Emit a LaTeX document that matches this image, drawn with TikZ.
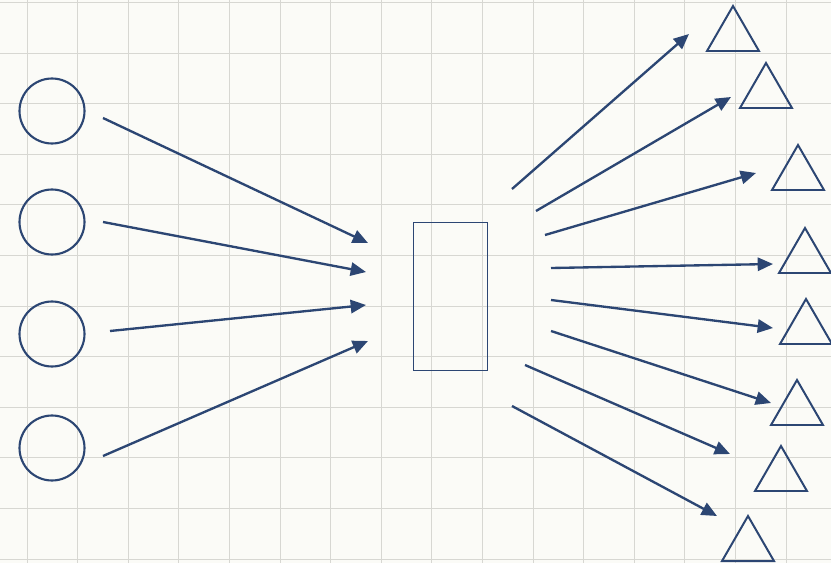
\documentclass[tikz,border=0pt]{standalone}
\usetikzlibrary{arrows.meta, positioning, shapes.geometric}
\definecolor{inkblue}{RGB}{44,70,115}
\definecolor{paper}{RGB}{251,251,247}
\definecolor{gridgray}{RGB}{215,215,210}
\tikzset{
  source/.style={circle, draw=inkblue, line width=1.8pt,
                 inner sep=0pt, minimum size=1.95cm},
  hubbox/.style={rectangle, draw=inkblue, line width=1.5pt,
                 inner sep=0pt, minimum width=2.22cm, minimum height=4.44cm},
  sink/.style={regular polygon, regular polygon sides=3, draw=inkblue,
                 line width=1.7pt, inner sep=0pt, minimum size=1.8cm},
  flow/.style={draw=inkblue, line width=2pt,
                 -{Triangle[length=0.46cm, width=0.4cm]}},
  gridline/.style={draw=gridgray, line width=0.8pt},
}
\begin{document}
\begin{tikzpicture}[x=0.03cm, y=-0.03cm]
    \fill[paper] (0,0) rectangle (831,563);
    \useasboundingbox (0,0) rectangle (831,563);
    % Grid
    \foreach \k in {0,...,15}
      \draw[gridline] ({27+50.6*\k},0) -- ({27+50.6*\k},563);
    \foreach \k in {0,...,11}
      \draw[gridline] (0,{2.5+50.6*\k}) -- (831,{2.5+50.6*\k});
    % Sources
    \node[source] (c1) at (52,111) {};
    \node[source] (c2) at (52,222) {};
    \node[source] (c3) at (52,334) {};
    \node[source] (c4) at (52,448) {};
    % Box
    \node[hubbox] (hub) at (450.5,296.5) {};
    % Sinks
    \node[sink] (t1) at (733,36)  {};
    \node[sink] (t2) at (766,93)  {};
    \node[sink] (t3) at (798,175) {};
    \node[sink] (t4) at (805,258) {};
    \node[sink] (t5) at (806,329) {};
    \node[sink] (t6) at (797,410) {};
    \node[sink] (t7) at (781,476) {};
    \node[sink] (t8) at (748,546) {};
    % Arrow ends
    \coordinate (in1s) at (103,118); \coordinate (in1e) at (368,243);
    \coordinate (in2s) at (103,222); \coordinate (in2e) at (366,272);
    \coordinate (in3s) at (110,331); \coordinate (in3e) at (366,305);
    \coordinate (in4s) at (103,456); \coordinate (in4e) at (368,341);
    \coordinate (out1s) at (512,189); \coordinate (out1e) at (689,34);
    \coordinate (out2s) at (536,211); \coordinate (out2e) at (731,97);
    \coordinate (out3s) at (545,235); \coordinate (out3e) at (756,173);
    \coordinate (out4s) at (551,268); \coordinate (out4e) at (773,264);
    \coordinate (out5s) at (551,300); \coordinate (out5e) at (773,328);
    \coordinate (out6s) at (551,331); \coordinate (out6e) at (771,403);
    \coordinate (out7s) at (525,365); \coordinate (out7e) at (730,454);
    \coordinate (out8s) at (512,406); \coordinate (out8e) at (717,516);
    % Arrows
    \foreach \i in {1,...,4}
      \draw[flow] (in\i s) -- (in\i e);
    \foreach \i in {1,...,8}
      \draw[flow] (out\i s) -- (out\i e);
\end{tikzpicture}
\end{document}
